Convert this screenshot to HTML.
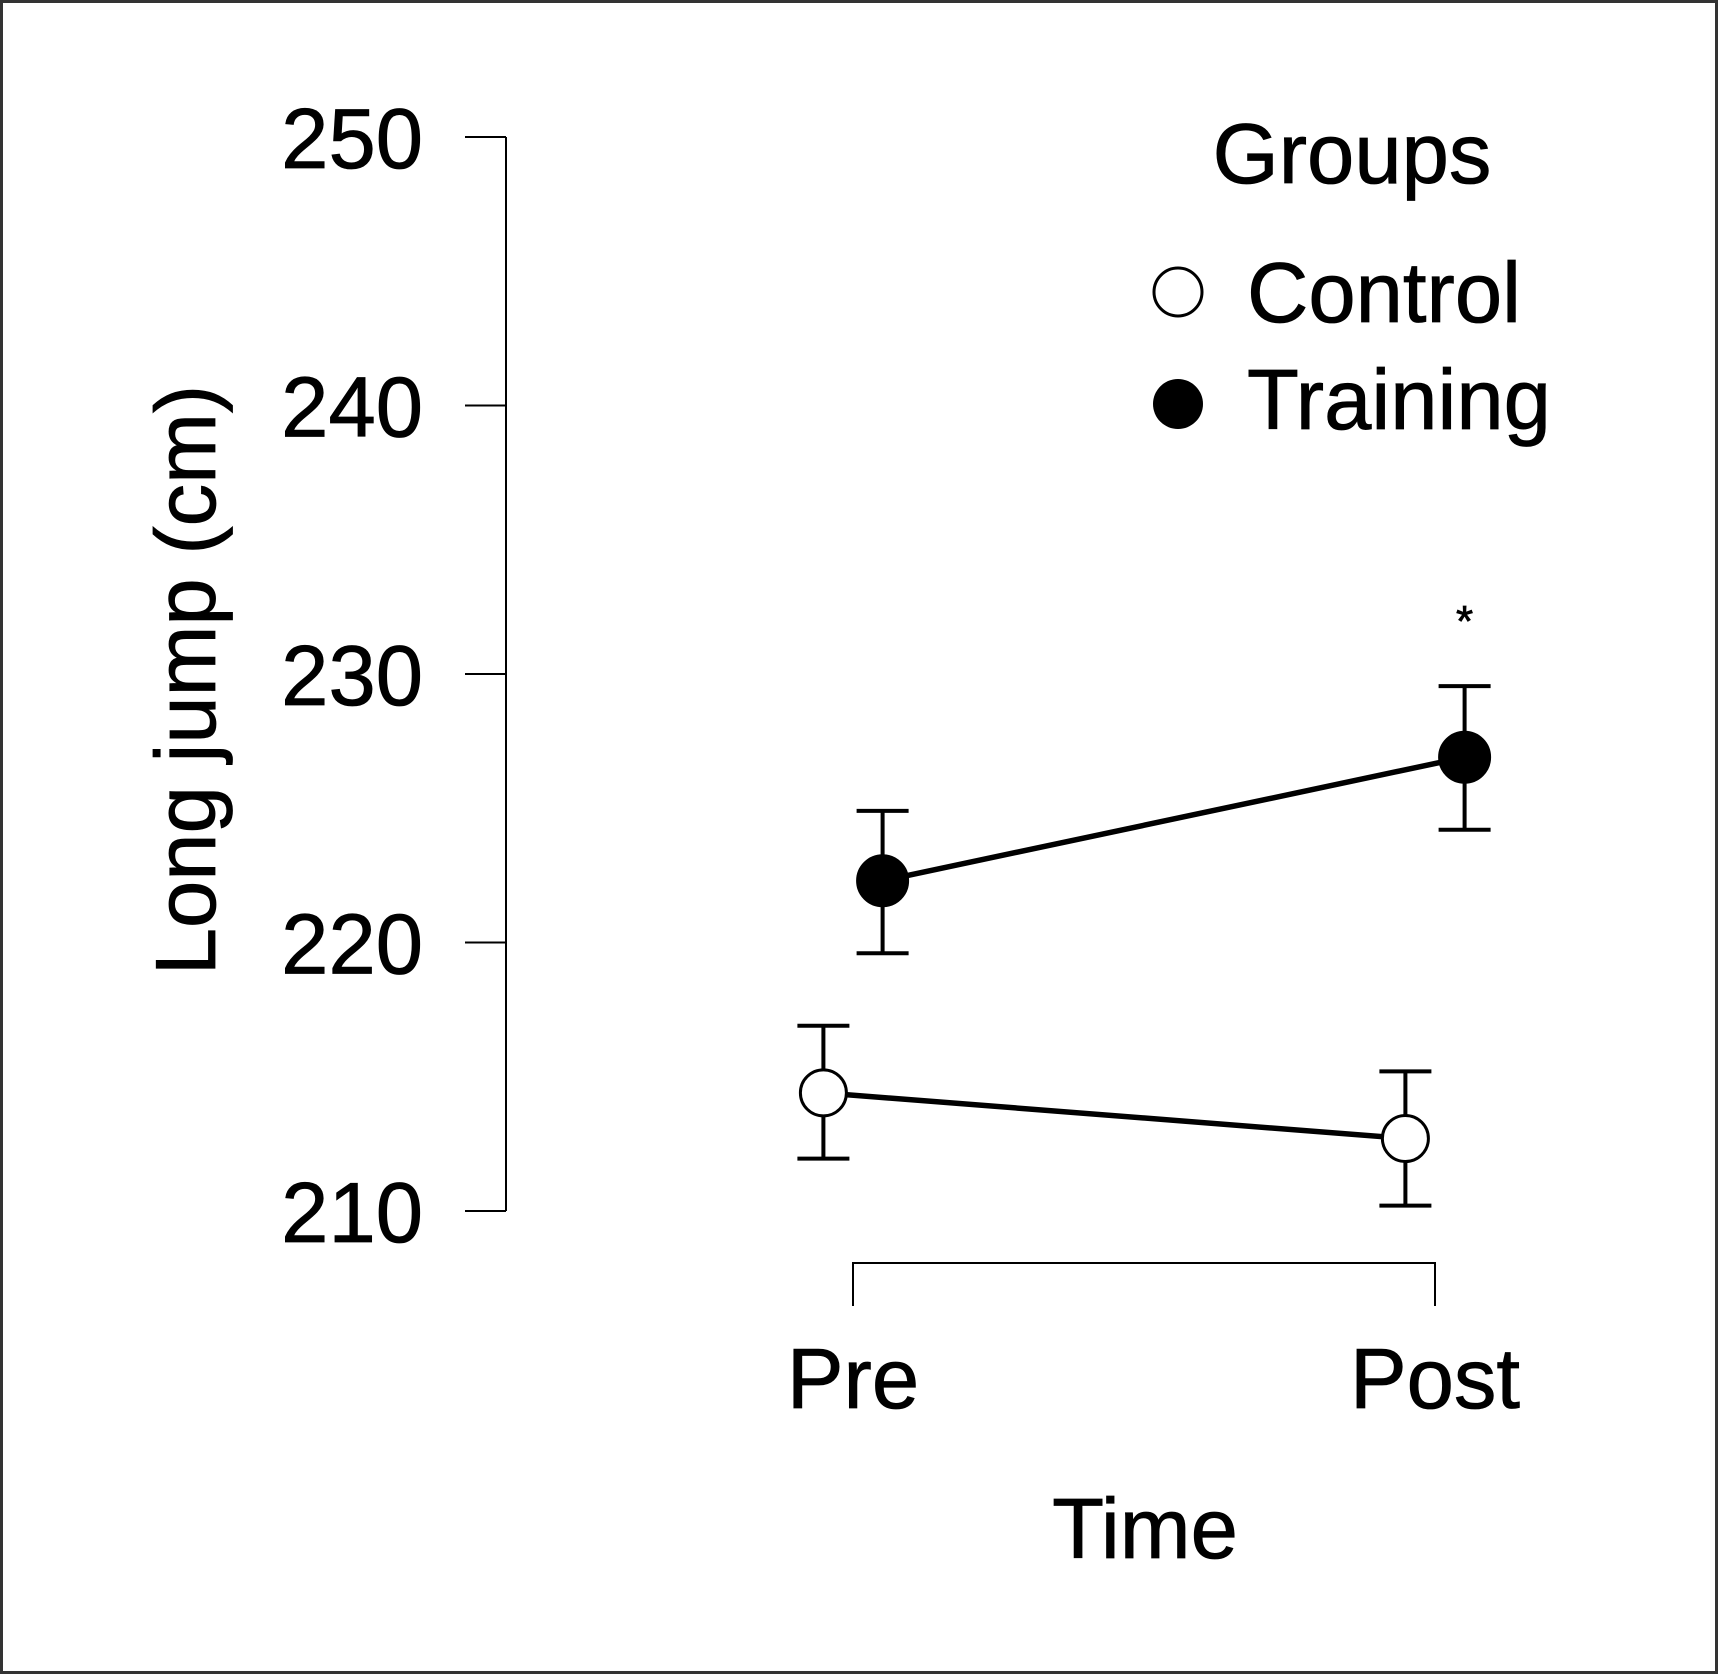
<!DOCTYPE html>
<html><head><meta charset="utf-8"><style>
html,body{margin:0;padding:0;background:#fff;}
svg{display:block;font-family:"Liberation Sans",Arial,sans-serif;}
text{stroke:#000;stroke-width:0.8;}
</style></head><body>
<svg id="chart" width="1718" height="1674" viewBox="0 0 1718 1674" xmlns="http://www.w3.org/2000/svg">
<rect x="1.5" y="1.5" width="1715" height="1671" fill="#fff" stroke="#333" stroke-width="3"/>
<g id="axes"></g>
<g id="marks"></g>
<text transform="translate(215,680) rotate(-90)" text-anchor="middle" font-size="85">Long jump (cm)</text>
<text x="1145" y="1558" text-anchor="middle" font-size="85">Time</text>
<text x="1352" y="183" text-anchor="middle" font-size="85">Groups</text>
<circle cx="1178" cy="292" r="24" fill="#fff" stroke="#000" stroke-width="3"/>
<text x="1247" y="322" font-size="85">Control</text>
<circle cx="1178" cy="404" r="25" fill="#000"/>
<text x="1247" y="429" font-size="85">Training</text>
</svg>
<script>
const categories = ["Pre", "Post"];
const yTicks = [210, 220, 230, 240, 250];
const trainingMean = [222.3, 226.9];
const trainingUpper = [224.9, 229.55];
const trainingLower = [219.6, 224.2];
const controlMean = [214.4, 212.7];
const controlUpper = [216.9, 215.2];
const controlLower = [211.95, 210.2];
const significance = ["", "*"];

const NS = "http://www.w3.org/2000/svg";
function y(v){ return 1211 - (v - 210) * 26.85; }
function x(i){ return 853 + i * 582; }
function mk(tag, attrs, parent){
  const e = document.createElementNS(NS, tag);
  for (const k in attrs) e.setAttribute(k, attrs[k]);
  parent.appendChild(e);
  return e;
}
const axes = document.getElementById('axes');
const marks = document.getElementById('marks');

let el = mk('line', {x1:506, x2:506, y1:y(250), y2:y(210), stroke:'#000', 'stroke-width':2}, axes);


yTicks.forEach(t => {
  let tk = mk('line', {x1:465, x2:506, y1:y(t), y2:y(t), stroke:'#000', 'stroke-width':2}, axes);
  
  
  let lb = mk('text', {x:423, y:y(t)+31, 'text-anchor':'end', 'font-size':85}, axes);
  lb.textContent = t;
  
  
});
el = mk('path', {d:`M${x(0)},1306 V1263 H${x(1)} V1306`, fill:'none', stroke:'#000', 'stroke-width':2}, axes);


categories.forEach((c, i) => {
  let lb = mk('text', {x:x(i), y:1408, 'text-anchor':'middle', 'font-size':85}, axes);
  lb.textContent = c;
  
  
});

function series(name, mean, up, lo, off, fill){
  const pts = mean.map((v, i) => [x(i) + off, y(v)]);
  let ln = mk('polyline', {points: pts.map(p => p.join(',')).join(' '), fill:'none', stroke:'#000', 'stroke-width':5.5}, marks);
  
  
  mean.forEach((v, i) => {
    const cx = x(i) + off;
    let eb = mk('path', {d:`M${cx-26},${y(up[i])} H${cx+26} M${cx},${y(up[i])} V${y(lo[i])} M${cx-26},${y(lo[i])} H${cx+26}`, fill:'none', stroke:'#000', 'stroke-width':4}, marks);
    
    
  });
  mean.forEach((v, i) => {
    let pt = mk('circle', {cx:x(i)+off, cy:y(v), r:fill==='#000'?25:23, fill:fill, stroke:'#000', 'stroke-width':3}, marks);
    
    
  });
}
series('control', controlMean, controlUpper, controlLower, -29.6, '#fff');
series('training', trainingMean, trainingUpper, trainingLower, 29.6, '#000');
significance.forEach((s, i) => {
  if (!s) return;
  let t = mk('text', {x:x(i)+29.6, y:y(trainingUpper[i]) - 50, 'text-anchor':'middle', 'font-size':44}, marks);
  t.textContent = s;
  
  
});
</script>
</body></html>
